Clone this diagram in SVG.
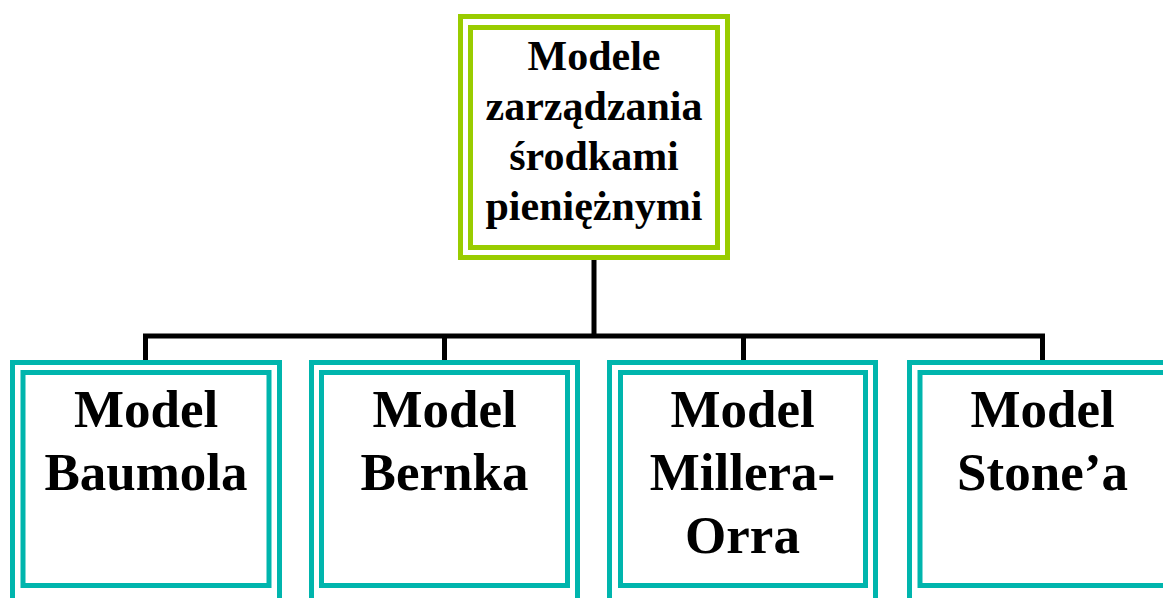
<svg xmlns="http://www.w3.org/2000/svg" width="1163" height="598" viewBox="0 0 1163 598">
<style>
.g{fill:none;stroke:#99CC00;stroke-width:5}
.t{fill:none;stroke:#00B5AD;stroke-width:5}
.top{font-family:"Liberation Serif","Times New Roman",serif;font-weight:bold;font-size:42px;fill:#000;text-anchor:middle}
.bot{font-family:"Liberation Serif","Times New Roman",serif;font-weight:bold;font-size:53px;fill:#000;text-anchor:middle}
.c{fill:none;stroke:#000;stroke-width:5}
</style>
<rect width="1163" height="598" fill="#fff"/>
<g id="connectors">
<path class="c" d="M594 260V336M145.5 362V336H1042.5V362M444.5 336V362M743.5 336V362"/>
</g>
<g id="root">
<rect class="g" x="460.5" y="16.5" width="267" height="241"/>
<rect class="g" x="470.5" y="27.5" width="247" height="220"/>
<text class="top" x="594" y="70">Modele</text>
<text class="top" x="594" y="120">zarządzania</text>
<text class="top" x="594" y="170">środkami</text>
<text class="top" x="594" y="220">pieniężnymi</text>
</g>
<g id="baumola">
<rect class="t" x="12.5" y="362.5" width="267" height="250"/>
<rect class="t" x="23" y="372.5" width="246" height="213"/>
<text class="bot" x="146" y="427">Model</text>
<text class="bot" x="146" y="490">Baumola</text>
</g>
<g id="bernka">
<rect class="t" x="311.5" y="362.5" width="266" height="250"/>
<rect class="t" x="321.5" y="372.5" width="246" height="213"/>
<text class="bot" x="444.5" y="427">Model</text>
<text class="bot" x="444.5" y="490">Bernka</text>
</g>
<g id="millera">
<rect class="t" x="609.5" y="362.5" width="266" height="250"/>
<rect class="t" x="620.5" y="372.5" width="245" height="213"/>
<text class="bot" x="742.5" y="427">Model</text>
<text class="bot" x="742.5" y="490">Millera-</text>
<text class="bot" x="742.5" y="553">Orra</text>
</g>
<g id="stone">
<rect class="t" x="909.5" y="362.5" width="266" height="250"/>
<rect class="t" x="920" y="372.5" width="246" height="213"/>
<text class="bot" x="1042.5" y="427">Model</text>
<text class="bot" x="1042.5" y="490">Stone’a</text>
</g>
</svg>
